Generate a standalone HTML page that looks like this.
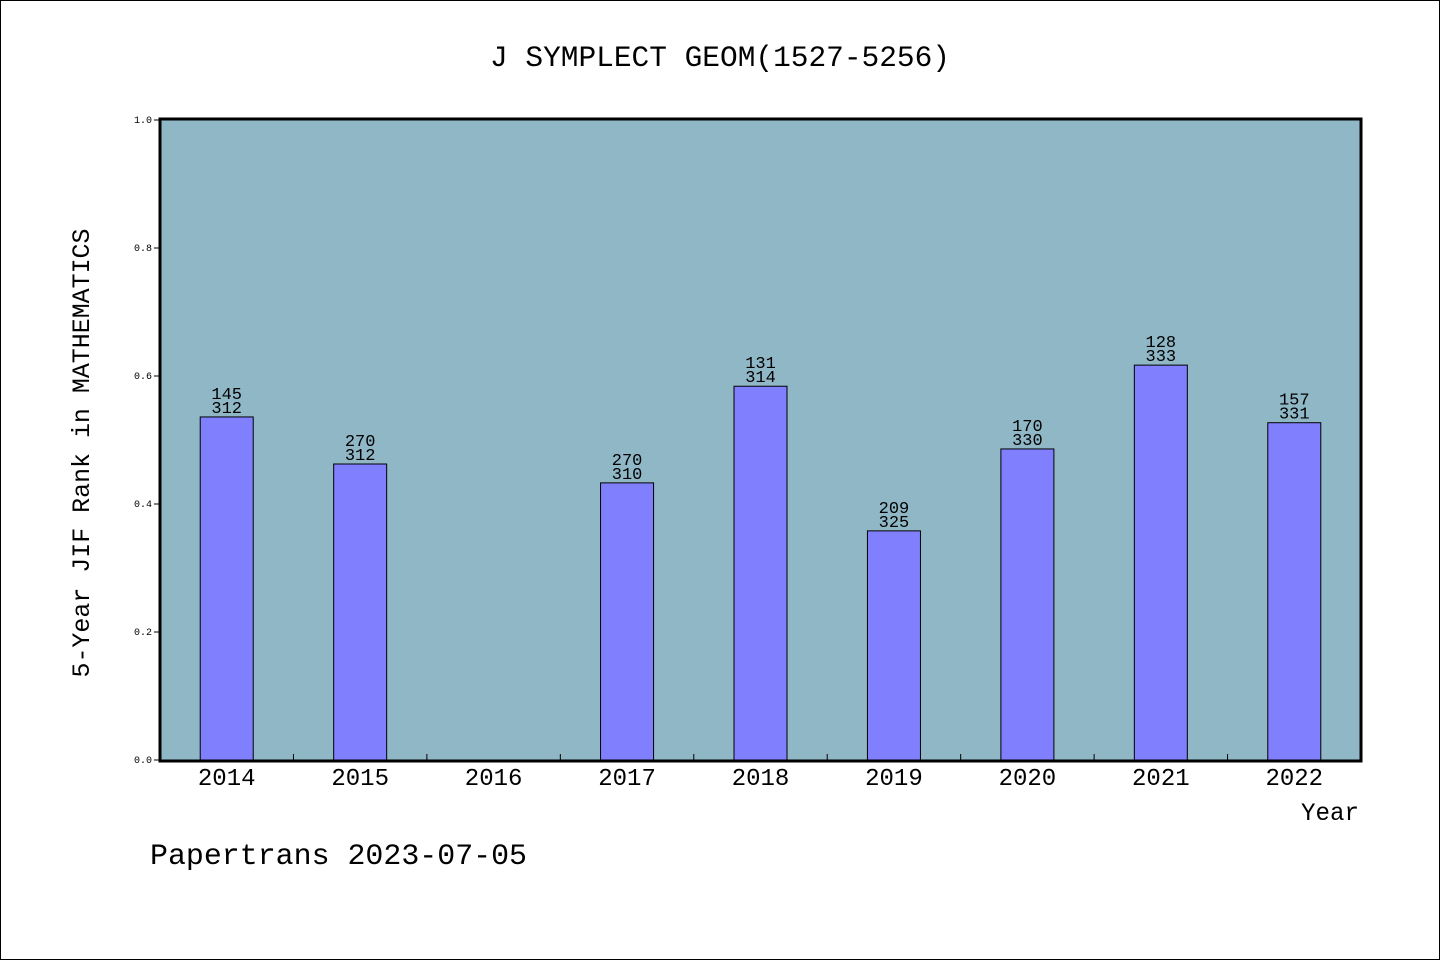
<!DOCTYPE html>
<html><head><meta charset="utf-8"><style>
html,body{margin:0;padding:0;background:#fff;}
svg{display:block;font-family:"Liberation Mono","WenQuanYi Zen Hei",monospace;}
</style></head><body>
<svg id="chart" width="1440" height="960" viewBox="0 0 1440 960">
<rect x="0.5" y="0.5" width="1439" height="959" fill="#fff" stroke="#000"/>
<text x="720" y="66" text-anchor="middle" font-size="30" textLength="460" lengthAdjust="spacingAndGlyphs">J SYMPLECT GEOM(1527-5256)</text>
<rect x="160" y="119" width="1201" height="642" fill="#8fb7c6"/>
<g id="grid"></g>
<g id="bars"></g>
<rect x="160" y="119" width="1201" height="642" fill="none" stroke="#000" stroke-width="3"/>
<text transform="translate(89,453) rotate(-90)" text-anchor="middle" font-size="25" textLength="449" lengthAdjust="spacingAndGlyphs">5-Year JIF Rank in MATHEMATICS</text>
<text x="1359" y="820" text-anchor="end" font-size="25" textLength="58" lengthAdjust="spacingAndGlyphs">Year</text>
<text x="150" y="864" font-size="30" textLength="377" lengthAdjust="spacingAndGlyphs">Papertrans 2023-07-05</text>
</svg>
<script>
const categories=["2014","2015","2016","2017","2018","2019","2020","2021","2022"];
const values=[0.536,0.4625,null,0.433,0.584,0.358,0.486,0.617,0.527];
const ranks=["145","270",null,"270","131","209","170","128","157"];
const totals=["312","312",null,"310","314","325","330","333","331"];
const yTicks=["0.0","0.2","0.4","0.6","0.8","1.0"];
const X0=160,X1=1361,Y0=760,Y1=120;
const slot=(X1-X0)/categories.length;
const xc=i=>X0+slot*(i+0.5);
const y=v=>Y0-(v-0)/(1-0)*(Y0-Y1);
const NS="http://www.w3.org/2000/svg";
const svg=document.getElementById('chart'),grid=document.getElementById('grid'),bars=document.getElementById('bars');
function mk(t,a,p){const e=document.createElementNS(NS,t);for(const k in a)e.setAttribute(k,a[k]);p.appendChild(e);return e;}
yTicks.forEach(t=>{const v=parseFloat(t),yy=y(v);
 const l=mk('line',{x1:X0-6,x2:X0,y1:yy,y2:yy,stroke:'#000'},grid);
 
 
 const tx=mk('text',{x:X0-8,y:yy+3,'text-anchor':'end','font-size':10},grid);tx.textContent=t;
 
 
});
categories.forEach((c,i)=>{
 if(i>0){const l=mk('line',{x1:X0+slot*i,x2:X0+slot*i,y1:Y0-6,y2:Y0,stroke:'#000'},grid);
  
  }
 const tx=mk('text',{x:xc(i),y:785,'text-anchor':'middle','font-size':24},grid);tx.textContent=c;
 
 
 const v=values[i];
 if(v==null)return;
 const r=mk('rect',{x:xc(i)-26.5,y:y(v),width:53,height:Y0-y(v),fill:'#8080ff',stroke:'#000','stroke-width':1},bars);
 
 
 const t1=mk('text',{x:xc(i),y:y(v)-18,'text-anchor':'middle','font-size':17},bars);t1.textContent=ranks[i];
 
 
 const t2=mk('text',{x:xc(i),y:y(v)-4,'text-anchor':'middle','font-size':17},bars);t2.textContent=totals[i];
 
 
});
</script>
</body></html>
